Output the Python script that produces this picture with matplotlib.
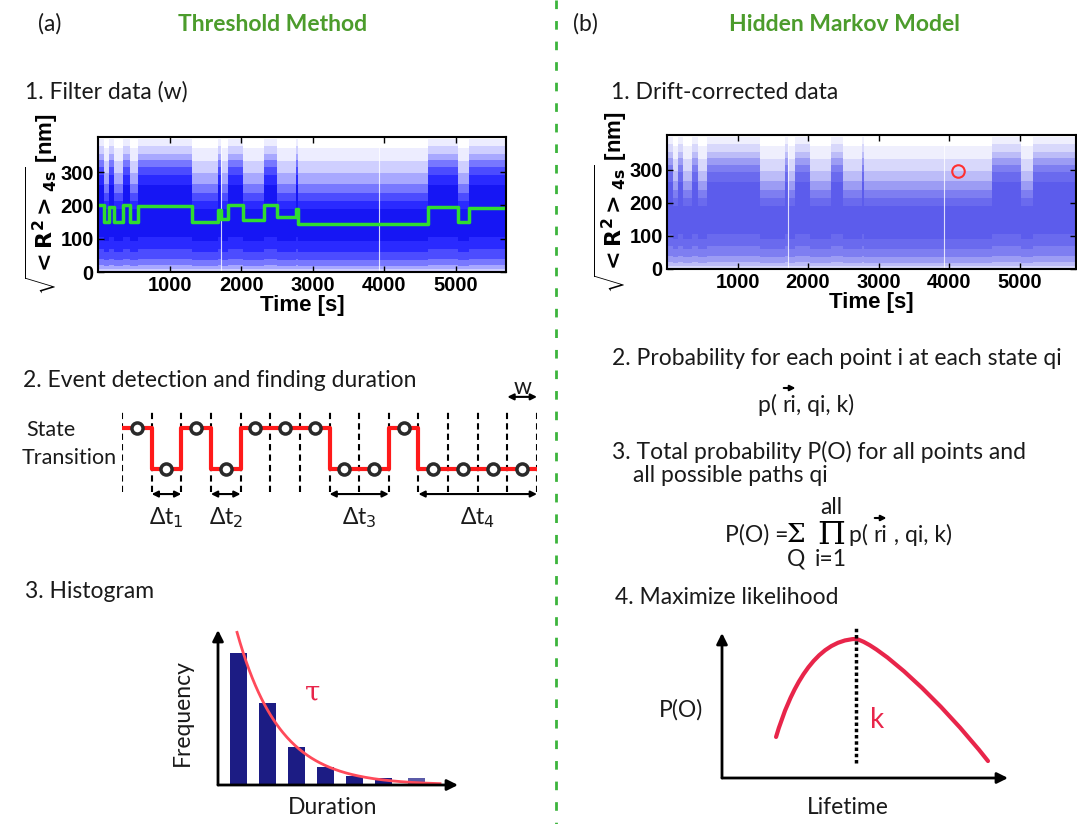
import numpy as np
import matplotlib.pyplot as plt
from matplotlib.path import Path
from matplotlib.patches import PathPatch

# ---- data ----

# trace: state segments in time [s] (1 = high / 0 = low state)
seg_edges = [0, 85, 150, 230, 350, 445, 565, 1315, 1680, 1720, 1820, 2030,
             2325, 2495, 2760, 2800, 4615, 5025, 5190, 5800]
seg_state = [1, 0, 1, 0, 1, 0, 1, 0, 1, 0, 1, 0, 1, 0, 1, 0, 1, 0, 1]
# filtered (w) level of each segment [nm]
green_level = [200, 150, 195, 150, 200, 150, 198, 150, 185, 160, 200, 155,
               200, 165, 190, 145, 195, 150, 192]
# spread of the raw points for each state (lower, upper) [nm], widest first
band_high = [(0, 400), (4, 378), (10, 355), (22, 335), (40, 315), (70, 292), (105, 262)]
band_low = [(0, 372), (3, 332), (8, 297), (18, 265), (35, 238), (60, 214), (92, 190)]
gap_times = [1720, 3930]
time_ticks = [1000, 2000, 3000, 4000, 5000]
r_ticks = [0, 100, 200, 300]
hmm_mark_t = [4120]
hmm_mark_r = [297]

# event detection: state in each window w
window_state = [1, 0, 1, 0, 1, 1, 1, 0, 0, 1, 0, 0, 0, 0]

# histogram of durations
hist_x = [1, 2, 3, 4, 5, 6, 7.15]
hist_freq = [132, 82, 38, 18, 9, 7, 7]
fit_amp, fit_tau = 290, 1.48

# likelihood vs lifetime (bezier control points)
lik_x = [1.89, 2.38, 3.25, 4.69, 5.52, 7.62, 9.30]
lik_y = [2.83, 6.07, 9.52, 9.59, 9.17, 5.38, 1.17]
k_best = 4.69

# ---- styles ----
cloud_a = ['#ededff', '#cfcfff', '#a8a8ff', '#7878ff', '#4c4cff', '#2a2aff', '#1616f4']
cloud_b = ['#efeffd', '#d8d8fb', '#bcbcf8', '#9c9cf4', '#7e7ef1', '#6a6aee', '#5c5cec']
green_title = '#4c9c2c'
red = '#e8254a'
FS = 16.5

plt.rcParams['font.family'] = ['Lato', 'DejaVu Sans']
W, H = 1077, 824
fig = plt.figure(figsize=(W / 100, H / 100), dpi=100)


def px_axes(x0, y0, x1, y1):
    return fig.add_axes([x0 / W, 1 - y1 / H, (x1 - x0) / W, (y1 - y0) / H])


# background axes in pixel units for the text
bg = px_axes(0, 0, W, H)
bg.set_xlim(0, W)
bg.set_ylim(H, 0)
bg.axis('off')

txt = dict(fontsize=FS, va='center', ha='left', color='#1a1a1a')
ctr = {**txt, 'ha': 'center'}

bg.text(38, 24, '(a)', **txt)
bg.text(573, 24, '(b)', **txt)
bg.text(273, 24, 'Threshold Method', fontsize=FS, fontweight='bold',
        color=green_title, ha='center', va='center')
bg.text(844, 24, 'Hidden Markov Model', fontsize=FS, fontweight='bold',
        color=green_title, ha='center', va='center')
bg.plot([556, 556], [0, H], color='#3cb43c', lw=2, ls=(0, (3.1, 4.3)))

bg.text(25, 92, '1. Filter data (w)', **txt)
bg.text(23, 380, '2. Event detection and finding duration', **txt)
bg.text(26, 430, 'State', **{**txt, 'fontsize': 15.5})
bg.text(22, 458, 'Transition', **{**txt, 'fontsize': 15.5})
bg.text(25, 592, '3. Histogram', **txt)
bg.text(182, 713, 'Frequency', rotation=90, **ctr)
bg.text(333, 808, 'Duration', **ctr)

bg.text(611, 92, '1. Drift-corrected data', **txt)
bg.text(612, 358, '2. Probability for each point i at each state qi', **txt)
bg.text(612, 452, '3. Total probability P(O) for all points and', **txt)
bg.text(633, 475, 'all possible paths qi', **txt)
bg.text(615, 597, '4. Maximize likelihood', **txt)
bg.text(681, 710, 'P(O)', **ctr)
bg.text(848, 808, 'Lifetime', **ctr)

renderer = fig.canvas.get_renderer()


def put_run(x, y, parts):
    # place text pieces left to right, with an arrow over the ones flagged
    for s, arrow in parts:
        t = bg.text(x, y, s, **txt)
        w = t.get_window_extent(renderer).width
        if arrow:
            bg.annotate('', xy=(x + w - 1, y - 17), xytext=(x + 1, y - 17),
                        arrowprops=dict(arrowstyle='-|>', lw=1.5, color='k',
                                        mutation_scale=8, shrinkA=0, shrinkB=0))
        x += w
    return x


put_run(758, 405, [('p( ', False), ('ri', True), (', qi, k)', False)])

# formula
xe = put_run(725, 535, [('P(O) =', False)])
bg.text(xe + 8, 535, 'Σ', fontsize=19, family='DejaVu Serif', ha='center', va='center')
bg.text(xe + 8, 559, 'Q', **ctr)
bg.text(831, 535, 'Π', fontsize=23, family='DejaVu Serif', ha='center', va='center')
bg.text(831, 508, 'all', **ctr)
bg.text(831, 559, 'i=1', **ctr)
put_run(849, 535, [('p( ', False), ('ri', True), (' , qi, k)', False)])


# ---- traces ----
def trace(ax, colors, xmax):
    x = np.array(seg_edges)
    for i, c in enumerate(colors):
        lo = [band_high[i][0] if s else band_low[i][0] for s in seg_state]
        hi = [band_high[i][1] if s else band_low[i][1] for s in seg_state]
        ax.fill_between(x, lo + [lo[-1]], hi + [hi[-1]], step='post', color=c, lw=0)
    for g in gap_times:
        ax.axvline(g, color='white', lw=0.8, alpha=0.8)
    ax.set_xlim(0, xmax)
    ax.set_ylim(0, 405)
    ax.set_xticks(time_ticks)
    ax.set_yticks(r_ticks)
    ax.tick_params(direction='in', top=True, right=True, length=4, width=1,
                   labelsize=14.5, pad=3)
    plt.setp(ax.get_xticklabels() + ax.get_yticklabels(),
             fontweight='bold', family='Liberation Sans')
    ax.set_xlabel('Time [s]', fontsize=16, fontweight='bold',
                  family='Liberation Sans', labelpad=0)
    ax.set_ylabel(r'$\sqrt{\mathbf{<R^2>_{4s}}}$ [nm]', fontsize=16,
                  fontweight='bold', family='Liberation Sans', labelpad=0)
    for sp in ax.spines.values():
        sp.set_linewidth(1.5)


ax_a = px_axes(98, 137, 506, 272)
trace(ax_a, cloud_a, 5700)
ax_a.step(seg_edges, green_level + [green_level[-1]], where='post',
          color='#30dc30', lw=2.5)

ax_b = px_axes(667, 135, 1076, 269)
trace(ax_b, cloud_b, 5800)
ax_b.plot(hmm_mark_t, hmm_mark_r, 'o', ms=9, mfc='none', mec='#ff3030', mew=1.5)

# ---- state transitions ----
ax_s = px_axes(122, 410, 537, 492)
n = len(window_state)
ax_s.set_xlim(0, n)
ax_s.set_ylim(-0.56, 1.44)
ax_s.axis('off')
for i in range(n + 1):
    ax_s.axvline(i, color='k', lw=1.5, ls=(0, (3, 2)))
ax_s.step(np.arange(n + 1), window_state + [window_state[-1]], where='post',
          color='#ff1a1a', lw=3)
ax_s.plot(np.arange(n) + 0.5, window_state, 'o', ms=8, mfc='white',
          mec='#2a2a2a', mew=2.5)

# runs of the low state give the durations
runs = []
start = None
for i, s in enumerate(window_state + [1]):
    if s == 0 and start is None:
        start = i
    elif s == 1 and start is not None:
        runs.append((start, i))
        start = None
arrow_kw = dict(arrowstyle='<|-|>', lw=1.5, color='k', mutation_scale=9,
                shrinkA=0, shrinkB=0)
for j, (a, b) in enumerate(runs):
    ax_s.annotate('', xy=(b, -0.61), xytext=(a, -0.61), arrowprops=arrow_kw,
                  annotation_clip=False)
    ax_s.text((a + b) / 2, -1.19, 'Δt$_{%d}$' % (j + 1), fontsize=FS,
              ha='center', va='center', color='#1a1a1a')
ax_s.annotate('', xy=(n, 1.76), xytext=(n - 1, 1.76), arrowprops=arrow_kw,
              annotation_clip=False)
ax_s.text(n - 0.5, 1.98, 'w', fontsize=FS, ha='center', va='center', color='#1a1a1a')

# ---- histogram ----
ax_h = px_axes(218, 630, 458, 785)
ax_h.set_xlim(0.293, 8.57)
ax_h.set_ylim(0, 155)
ax_h.axis('off')
axis_arrow = dict(arrowstyle='-|>', lw=2, color='k', mutation_scale=16,
                  shrinkA=0, shrinkB=0)
ax_h.annotate('', xy=(1, 0), xytext=(0, 0), xycoords='axes fraction', arrowprops=axis_arrow)
ax_h.annotate('', xy=(0, 1), xytext=(0, 0), xycoords='axes fraction', arrowprops=axis_arrow)
ax_h.bar(hist_x, hist_freq, width=0.58, color=['#1c1c84'] * 6 + ['#5b5ba8'])
xx = np.linspace(0.95, 7.95, 200)
ax_h.plot(xx, fit_amp * np.exp(-xx / fit_tau), color='#ff4a5a', lw=2)
ax_h.text(3.57, 92, 'τ', color=red, fontsize=20, family='DejaVu Serif',
          ha='center', va='center')

# ---- likelihood ----
ax_l = px_axes(722, 633, 1008, 778)
ax_l.set_xlim(0, 10)
ax_l.set_ylim(0, 10)
ax_l.axis('off')
ax_l.annotate('', xy=(1, 0), xytext=(0, 0), xycoords='axes fraction', arrowprops=axis_arrow)
ax_l.annotate('', xy=(0, 1), xytext=(0, 0), xycoords='axes fraction', arrowprops=axis_arrow)
codes = [Path.MOVETO] + [Path.CURVE4] * 6
ax_l.add_patch(PathPatch(Path(list(zip(lik_x, lik_y)), codes), fc='none',
                         ec=red, lw=3, capstyle='round'))
ax_l.plot([k_best, k_best], [1.03, 10.34], color='k', lw=2.5,
          ls=(0, (1, 0.8)), clip_on=False)
ax_l.text(5.42, 4.0, 'k', color=red, fontsize=20, ha='center', va='center')

fig.savefig('out.png', dpi=100)
